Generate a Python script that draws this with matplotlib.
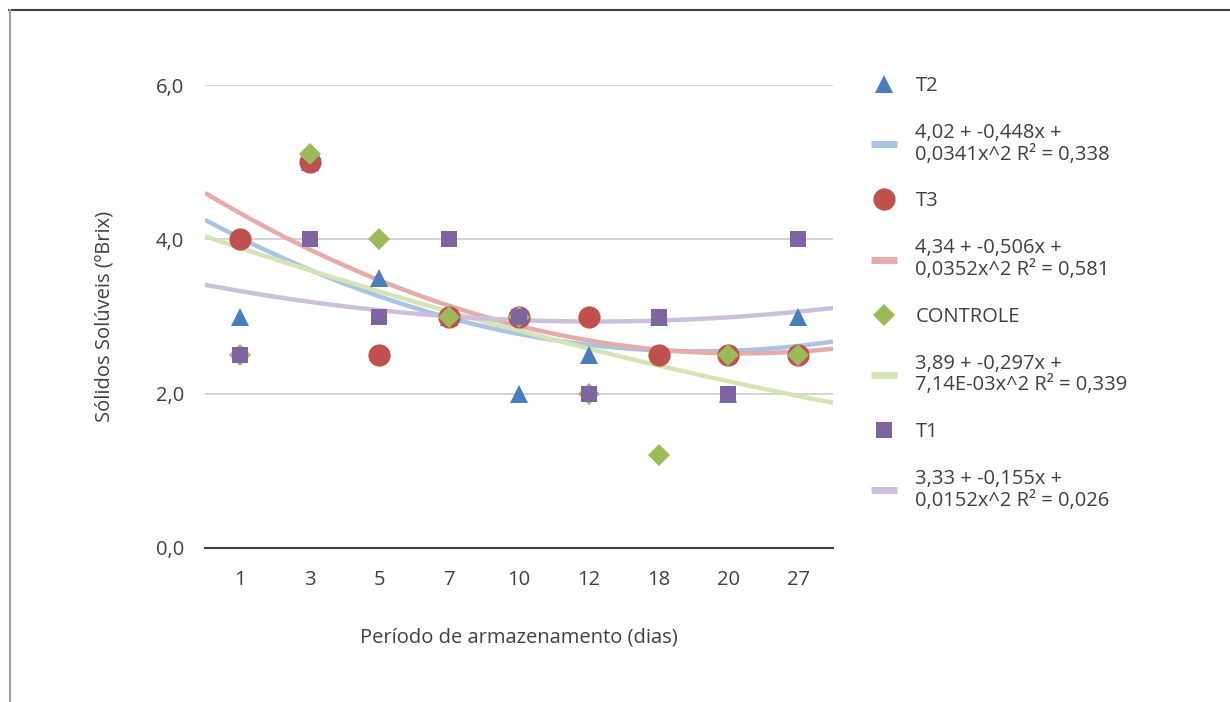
import numpy as np
import matplotlib.pyplot as plt
from matplotlib.lines import Line2D

plt.rcParams['font.family'] = ['Open Sans', 'DejaVu Sans']

# storage days (categorical axis)
dias = ['1', '3', '5', '7', '10', '12', '18', '20', '27']

t2 = [3.0, 5.0, 3.5, 3.0, 2.0, 2.5, 3.0, 2.0, 3.0]
t3 = [4.0, 5.0, 2.5, 3.0, 3.0, 3.0, 2.5, 2.5, 2.5]
controle = [2.5, 5.1, 4.0, 3.0, 3.0, 2.0, 1.2, 2.5, 2.5]
t1 = [2.5, 4.0, 3.0, 4.0, 3.0, 2.0, 3.0, 2.0, 4.0]

# quadratic trend coefficients (a, b, c) for a + b*x + c*x^2, x = category index
coef_t2 = [4.02, -0.448, 0.0341]
coef_t3 = [4.34, -0.506, 0.0352]
coef_controle = [3.89, -0.297, 7.14e-03]
coef_t1 = [3.33, -0.155, 0.0152]

eq_t2 = '4,02 + -0,448x +\n0,0341x^2 R² = 0,338'
eq_t3 = '4,34 + -0,506x +\n0,0352x^2 R² = 0,581'
eq_controle = '3,89 + -0,297x +\n7,14E-03x^2 R² = 0,339'
eq_t1 = '3,33 + -0,155x +\n0,0152x^2 R² = 0,026'

series = [
    ('T2', t2, coef_t2, eq_t2, '#4a7ebb', '#a9c3e5', '^', 13),
    ('T3', t3, coef_t3, eq_t3, '#c0504d', '#e6aaa9', 'o', 16),
    ('CONTROLE', controle, coef_controle, eq_controle, '#9bbb59', '#d4e4b3', 'D', 11.5),
    ('T1', t1, coef_t1, eq_t1, '#8064a2', '#cbbfdc', 's', 11),
]

FS = 14.5
TXT = '#404040'

fig = plt.figure(figsize=(12.3, 7.02), dpi=100)
ax = fig.add_axes([205 / 1230, 1 - 548 / 702, 628 / 1230, 463 / 702])

x = np.arange(len(dias))
xs = np.linspace(-0.5, len(dias) - 0.5, 200)

handles = []
labels = []
for name, vals, coef, eq, col, tcol, mk, ms in series:
    trend = coef[0] + coef[1] * xs + coef[2] * xs ** 2
    ax.plot(xs, trend, color=tcol, lw=3.2, zorder=2, solid_capstyle='butt')
    ax.plot(x, vals, linestyle='none', marker=mk, markersize=ms,
            color=col, markeredgewidth=0, zorder=3)
    handles.append(Line2D([], [], linestyle='none', marker=mk, markersize=ms,
                          color=col, markeredgewidth=0))
    labels.append(name)
    handles.append(Line2D([], [], color=tcol, lw=5, solid_capstyle='butt'))
    labels.append(eq)

ax.set_xlim(-0.5, len(dias) - 0.5)
ax.set_ylim(0, 6)
ax.set_yticks([0, 2, 4, 6])
ax.set_yticklabels(['0,0', '2,0', '4,0', '6,0'])
ax.set_xticks(x)
ax.set_xticklabels(dias)
ax.tick_params(length=0, labelsize=FS, colors=TXT)
ax.tick_params(axis='x', pad=16)
ax.tick_params(axis='y', pad=15)
ax.grid(axis='y', color='#d0d0d0', lw=1.3)
ax.set_axisbelow(True)
for s in ['top', 'right', 'left']:
    ax.spines[s].set_visible(False)
ax.spines['bottom'].set_color(TXT)
ax.spines['bottom'].set_linewidth(1.5)

ax.set_xlabel('Período de armazenamento (dias)', fontsize=FS, color=TXT, labelpad=27)
ax.set_ylabel('Sólidos Solúveis (ºBrix)', fontsize=FS, color=TXT, labelpad=30)

leg = fig.legend(handles, labels, loc='upper left', bbox_to_anchor=(861 / 1230, 1 - 66 / 702),
                 frameon=False, fontsize=FS, labelspacing=1.33, handlelength=1.3,
                 handletextpad=0.9, borderpad=0)
for t in leg.get_texts():
    t.set_color(TXT)
    t.set_linespacing(1.12)

# outer frame
fig.add_artist(Line2D([9 / 1230, 1], [1 - 10 / 702, 1 - 10 / 702], color=TXT, lw=1.5))
fig.add_artist(Line2D([10 / 1230, 10 / 1230], [0, 1 - 10 / 702], color='#a0a0a0', lw=1.5))

fig.savefig('out.png', dpi=100)
